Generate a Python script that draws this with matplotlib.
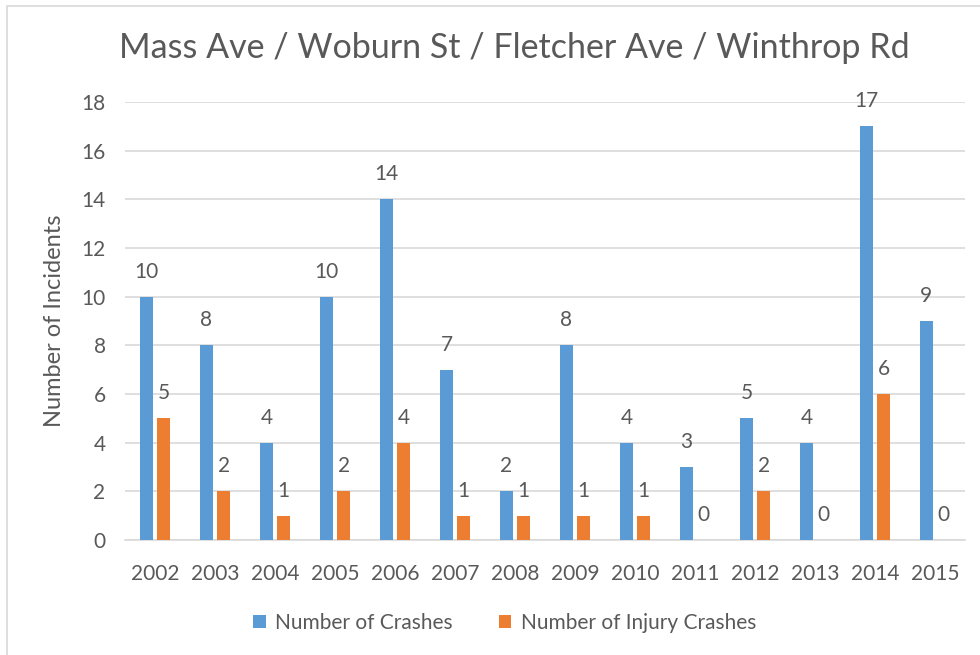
import matplotlib.pyplot as plt
import numpy as np
from matplotlib.patches import Rectangle

plt.rcParams['font.family'] = ['Lato', 'DejaVu Sans']

# data
years = ['2002', '2003', '2004', '2005', '2006', '2007', '2008',
         '2009', '2010', '2011', '2012', '2013', '2014', '2015']
crashes = [10, 8, 4, 10, 14, 7, 2, 8, 4, 3, 5, 4, 17, 9]
injury_crashes = [5, 2, 1, 2, 4, 1, 1, 1, 1, 0, 2, 0, 6, 0]

blue = '#5B9BD5'
orange = '#ED7D31'
text_col = '#595959'
grid_col = '#D9D9D9'

fig = plt.figure(figsize=(9.8, 6.55), dpi=100)
ax = fig.add_axes([0.1276, 0.1756, 0.8571, 0.6687])

# light frame like the Excel chart area
fig.patches.append(Rectangle((7 / 980, -0.01), 1.0, 1 - 6 / 655 + 0.01,
                             transform=fig.transFigure, fill=False,
                             edgecolor=grid_col, linewidth=1.2))

x = np.arange(len(years))
w = 0.22
b1 = ax.bar(x - w / 2 - 0.033, crashes, w, color=blue, label='Number of Crashes', zorder=3)
b2 = ax.bar(x + w / 2 + 0.033, injury_crashes, w, color=orange, label='Number of Injury Crashes', zorder=3)

for bars in (b1, b2):
    for r in bars:
        ax.annotate(str(int(r.get_height())),
                    (r.get_x() + r.get_width() / 2, r.get_height()),
                    xytext=(0, 18), textcoords='offset points',
                    ha='center', va='center', fontsize=15, color=text_col)

ax.set_xlim(-0.5, len(years) - 0.5)
ax.set_ylim(0, 18)
ax.set_yticks(range(0, 19, 2))
ax.set_xticks(x)
ax.set_xticklabels(years)
ax.tick_params(axis='both', length=0, labelsize=15, labelcolor=text_col)
ax.tick_params(axis='x', pad=17)
ax.tick_params(axis='y', pad=14)
ax.yaxis.grid(True, color=grid_col, linewidth=1.2, zorder=0)
ax.set_axisbelow(True)
for s in ['top', 'right', 'left']:
    ax.spines[s].set_visible(False)
ax.spines['bottom'].set_color(grid_col)
ax.spines['bottom'].set_linewidth(1.2)

ax.set_ylabel('Number of Incidents', fontsize=17, color=text_col, labelpad=12)
fig.text(0.525, 0.926, 'Mass Ave / Woburn St / Fletcher Ave / Winthrop Rd',
         ha='center', va='center', fontsize=24.5, color=text_col)

ax.legend(loc='center', bbox_to_anchor=(0.452, -0.19), ncol=2, frameon=False,
          fontsize=15, labelcolor=text_col, handlelength=0.6, handleheight=0.6,
          handletextpad=0.45, columnspacing=2.2)

fig.savefig('out.png', dpi=100)
